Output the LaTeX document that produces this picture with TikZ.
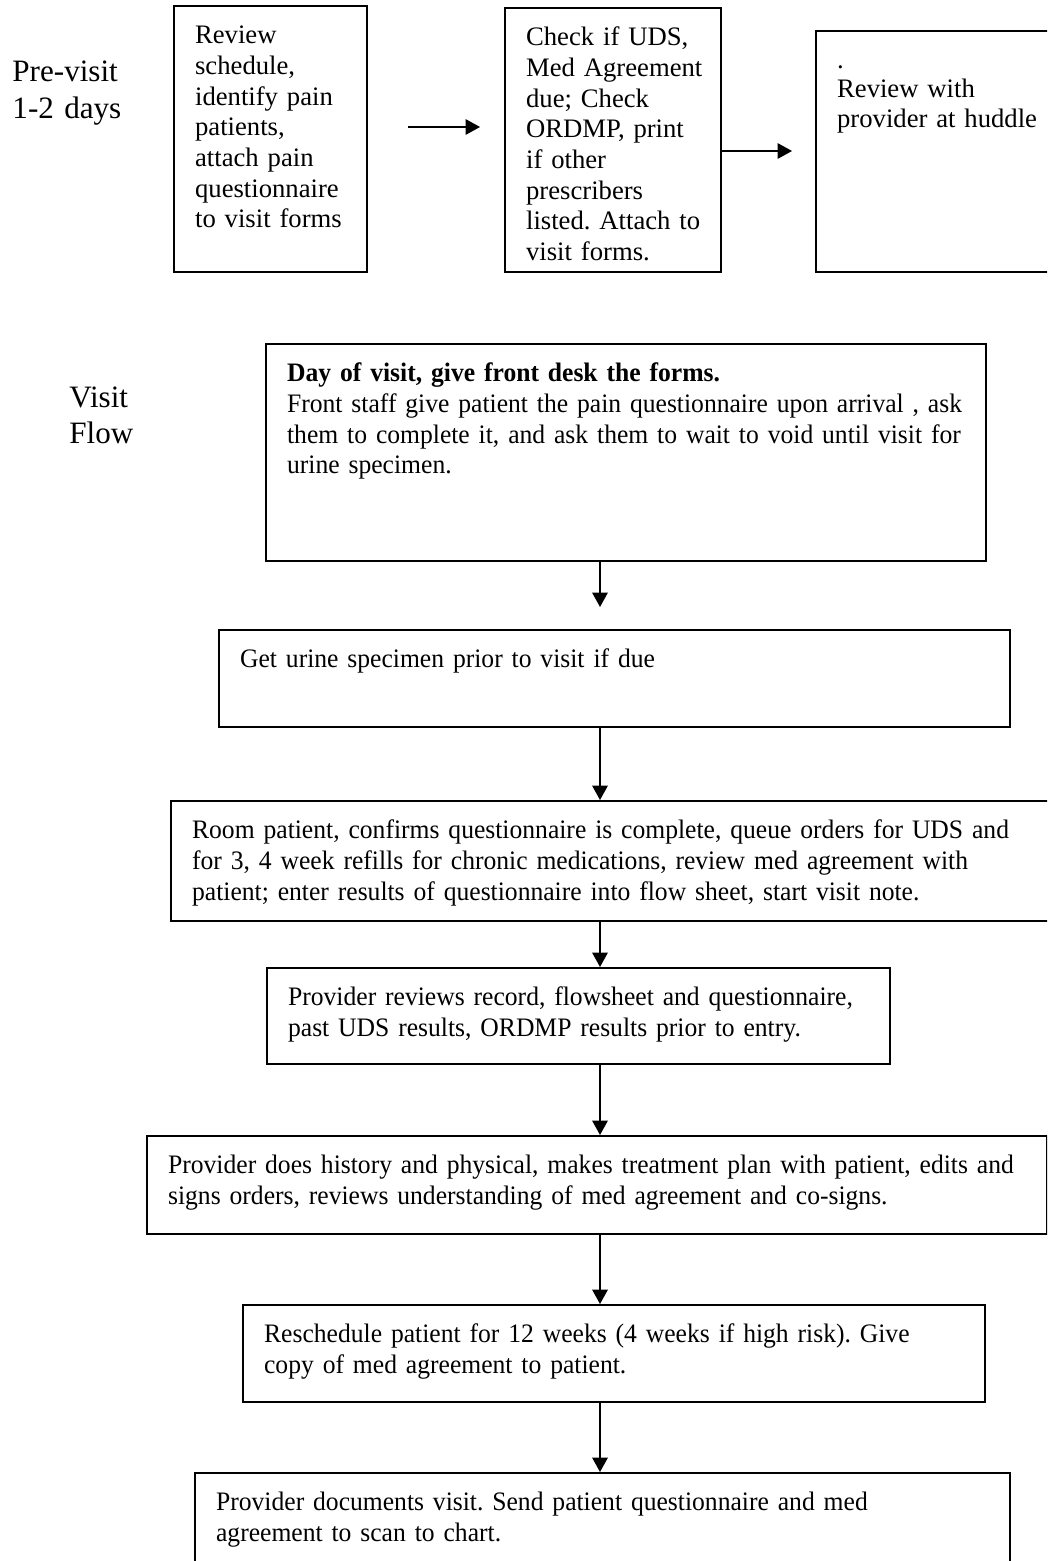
\documentclass[tikz,border=0pt]{standalone}
\usepackage{fontspec}
\setmainfont{Liberation Serif}
\newfontfamily\flowfont[FakeStretch=0.96]{Liberation Serif}
\usetikzlibrary{arrows.meta}

\begin{document}
\begin{tikzpicture}[
    x=0.45pt, y=-0.45pt,
    step box/.style={
        draw,
        line width=0.9pt,
        anchor=north west,
        align=left,
        inner xsep=9.5pt,
        inner ysep=9pt,
        text height=8pt,
        font=\fontsize{12}{13.8}\selectfont\frenchspacing,
    },
    flow box/.style={
        step box,
        font=\flowfont\fontsize{12}{13.8}\selectfont\frenchspacing,
    },
    phase/.style={
        anchor=base west,
        inner sep=0pt,
        text width=70pt,
        align=left,
        font=\fontsize{14}{16.6}\selectfont,
    },
    flow/.style={
        -{Triangle[length=6.5pt,width=7pt]},
        line width=0.7pt,
    },
    ]
    \useasboundingbox (0,0) rectangle (1047,1561);
    \clip (0,0) rectangle (1047,1561);

    % phase labels
    \node [phase, at={(12,82)}] (pre) {Pre-visit\\1-2 days};
    \node [phase, at={(69,407)}] (vis) {Visit\\Flow};

    % pre-visit row
    \node [step box, at={(173,5)}, text width=67.85pt, text depth=93.7pt] (rev)
        {Review\\schedule,\\identify pain\\patients,\\attach pain\\questionnaire\\to visit forms};
    \node [step box, at={(504,7)}, text width=78.2pt, text depth=92.8pt] (chk)
        {Check if UDS,\\\mbox{Med Agreement}\\due; Check\\ORDMP, print\\if other\\prescribers\\\mbox{listed. Attach to}\\visit forms.};
    \node [step box, at={(815,30)}, text width=98pt, text depth=82.45pt] (hud)
        {.\\[-1pt]Review with\\provider at huddle};

    \coordinate (r1) at (408,127);
    \coordinate (r2) at (480,127);
    \coordinate (r3) at (792,151);
    \draw [flow] (r1) -- (r2);
    \draw [flow] (r3 -| chk.east) -- (r3);

    % visit flow column
    \node [flow box, at={(265,343)}, text width=305pt, text depth=71.65pt] (day)
        {\textbf{Day of visit, give front desk the forms.}\\
         \mbox{Front staff give patient the pain questionnaire upon arrival , ask}\\
         \mbox{them to complete it, and ask them to wait to void until visit for}\\
         urine specimen.};
    \node [flow box, at={(218,629)}, text width=336.95pt, text depth=17.65pt] (urine)
        {Get urine specimen prior to visit if due};
    \node [flow box, at={(170,800)}, text width=381.5pt, text depth=28pt] (room)
        {\mbox{Room patient, confirms questionnaire is complete, queue orders for UDS and}\\
         \mbox{for 3, 4 week refills for chronic medications, review med agreement with}\\
         \mbox{patient; enter results of questionnaire into flow sheet, start visit note.}};
    \node [flow box, at={(266,967)}, text width=261.35pt, text depth=17.2pt] (prov)
        {\mbox{Provider reviews record, flowsheet and questionnaire,}\\
         \mbox{past UDS results, ORDMP results prior to entry.}};
    \node [flow box, at={(146,1135)}, text width=386pt, text depth=18.1pt] (hist)
        {\mbox{Provider does history and physical, makes treatment plan with patient, edits and}\\
         \mbox{signs orders, reviews understanding of med agreement and co-signs.}};
    \node [flow box, at={(242,1304)}, text width=314.9pt, text depth=17.65pt] (resch)
        {\mbox{Reschedule patient for 12 weeks (4 weeks if high risk). Give}\\
         copy of med agreement to patient.};
    \node [flow box, at={(194,1472)}, text width=347.75pt, text depth=28pt] (doc)
        {\mbox{Provider documents visit. Send patient questionnaire and med}\\
         agreement to scan to chart.};

    \coordinate (col) at (600,0);
    \draw [flow] (col |- day.south) -- (col |- 0,607);
    \draw [flow] (col |- urine.south) -- (col |- room.north);
    \draw [flow] (col |- room.south) -- (col |- prov.north);
    \draw [flow] (col |- prov.south) -- (col |- hist.north);
    \draw [flow] (col |- hist.south) -- (col |- resch.north);
    \draw [flow] (col |- resch.south) -- (col |- doc.north);
\end{tikzpicture}
\end{document}
